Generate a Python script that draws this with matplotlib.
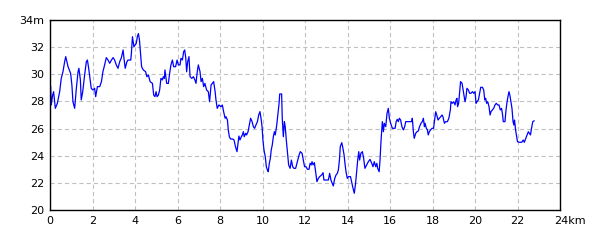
import matplotlib
matplotlib.use("Agg")
import matplotlib.pyplot as plt
import matplotlib.transforms as mtransforms

# Elevation profile (distance in km, elevation in m)
dist_km = [
    0.03, 0.06, 0.125, 0.17, 0.25, 0.345, 0.455, 0.53, 0.61, 0.69, 0.74, 0.85, 0.97,
    1.03, 1.08, 1.16, 1.24, 1.32, 1.36, 1.43, 1.47, 1.54, 1.63, 1.71, 1.76, 1.82, 1.88, 1.94,
    2.02, 2.10, 2.15, 2.23, 2.34, 2.42, 2.49, 2.57, 2.65, 2.73, 2.81, 2.89, 2.97,
    3.04, 3.12, 3.20, 3.28, 3.36, 3.44, 3.48, 3.54, 3.62, 3.67, 3.80, 3.83, 3.88, 3.95,
    4.06, 4.11, 4.16, 4.21, 4.27, 4.31, 4.39, 4.50, 4.56, 4.63, 4.71, 4.82, 4.88, 4.94, 4.99,
    5.04, 5.10, 5.16, 5.22, 5.29, 5.33, 5.38, 5.41, 5.49, 5.57, 5.63, 5.69, 5.76, 5.82, 5.91, 5.98,
    6.04, 6.12, 6.16, 6.23, 6.29, 6.34, 6.39, 6.43, 6.48, 6.54, 6.59, 6.67, 6.75, 6.82, 6.87, 6.93, 6.98,
    7.06, 7.11, 7.17, 7.23, 7.29, 7.37, 7.45, 7.51, 7.58, 7.64, 7.70, 7.77, 7.81, 7.87, 7.95,
    8.05, 8.11, 8.17, 8.24, 8.28, 8.35, 8.39, 8.44, 8.50, 8.60, 8.66, 8.71, 8.75, 8.80, 8.85, 8.89, 8.94, 8.99,
    9.05, 9.10, 9.14, 9.21, 9.25, 9.32, 9.38, 9.44, 9.51, 9.57, 9.63, 9.69, 9.76, 9.82, 9.88, 9.93, 9.98,
    10.02, 10.07, 10.13, 10.18, 10.23, 10.27, 10.32, 10.37, 10.41, 10.46, 10.51, 10.56, 10.60, 10.67,
    10.73, 10.78, 10.81, 10.90, 10.93, 10.98,
    11.03, 11.07, 11.12, 11.18, 11.23, 11.30, 11.36, 11.42, 11.48, 11.56, 11.64, 11.72, 11.78, 11.86,
    11.92, 11.98, 12.05, 12.11, 12.19, 12.24, 12.29, 12.33, 12.38, 12.44, 12.50, 12.56, 12.63, 12.69,
    12.78, 12.85, 12.89, 13.0, 13.10, 13.16, 13.22, 13.28, 13.33, 13.40, 13.46, 13.52, 13.57, 13.62,
    13.66, 13.73, 13.77, 13.84, 13.88, 13.93, 13.99, 14.05, 14.14, 14.21, 14.26, 14.32, 14.38, 14.43,
    14.48, 14.53, 14.57, 14.63, 14.70, 14.76, 14.82, 14.90, 14.98, 15.06, 15.14, 15.20, 15.26, 15.33,
    15.38, 15.42, 15.49, 15.53, 15.58, 15.64, 15.69, 15.73, 15.80, 15.86, 15.92, 15.97,
    16.03, 16.11, 16.24, 16.29, 16.34, 16.39, 16.44, 16.50, 16.56, 16.63, 16.69, 16.74, 16.81, 16.94,
    17.02, 17.05, 17.10, 17.14, 17.21, 17.27, 17.33, 17.39, 17.46, 17.52, 17.57, 17.62, 17.65, 17.71,
    17.76, 17.80, 17.85, 17.91, 17.98, 18.05, 18.10, 18.15, 18.20, 18.26, 18.32, 18.39, 18.45, 18.49,
    18.56, 18.62, 18.70, 18.77, 18.84, 18.87, 18.93, 19.0, 19.06, 19.11, 19.15, 19.18, 19.23, 19.27,
    19.32, 19.39, 19.44, 19.48, 19.53, 19.58, 19.62, 19.69, 19.75, 19.81, 19.88, 19.94, 20.0,
    20.05, 20.09, 20.16, 20.22, 20.27, 20.35, 20.41, 20.46, 20.50, 20.55, 20.60, 20.66, 20.71, 20.75,
    20.82, 20.88, 20.94, 21.0, 21.07, 21.13, 21.19, 21.25, 21.30, 21.33, 21.41, 21.46, 21.50, 21.55,
    21.60, 21.64, 21.69, 21.74, 21.79, 21.83, 21.86, 21.91, 21.96, 22.0, 22.09, 22.20, 22.27, 22.32,
    22.39, 22.45, 22.51, 22.56, 22.61, 22.66, 22.72, 22.78,
]
elev_m = [
    29.09, 27.74, 28.47, 28.72, 27.49, 27.86, 28.72, 29.70, 30.19, 30.93, 31.30, 30.56, 30.07,
    29.21, 27.98, 27.49, 28.97, 30.19, 30.44, 29.58, 28.11, 28.72, 29.95, 30.93, 31.05, 30.44, 29.70, 28.97,
    28.84, 28.97, 28.35, 29.09, 29.09, 29.46, 30.19, 30.69, 31.23, 31.05, 30.81, 31.05, 31.23,
    31.05, 30.69, 30.44, 30.93, 31.23, 31.79, 31.18, 30.44, 30.93, 31.05, 31.05, 31.55, 32.77, 32.03,
    32.28, 32.77, 33.0, 32.53, 31.30, 30.56, 30.32, 30.19, 29.82, 29.95, 29.46, 29.33, 28.47, 28.35, 28.72,
    28.35, 28.47, 28.84, 29.70, 29.58, 29.82, 29.70, 30.32, 29.33, 29.33, 30.07, 30.69, 31.05, 30.56, 30.56, 31.05,
    30.69, 30.69, 31.18, 31.05, 31.67, 31.79, 31.18, 30.19, 30.93, 31.30, 29.82, 29.70, 29.82, 29.58, 29.33, 30.19, 30.69,
    30.19, 29.46, 29.70, 29.09, 29.33, 28.84, 28.72, 27.98, 29.21, 29.33, 29.46, 28.72, 28.11, 27.49, 27.74,
    27.61, 27.74, 27.25, 26.76, 26.88, 26.63, 25.90, 25.40, 25.23, 25.23, 25.16, 24.79, 24.55, 24.30, 24.91, 25.45, 25.16, 25.35,
    25.53, 25.77, 25.40, 25.65, 25.53, 25.77, 26.26, 26.76, 26.51, 26.14, 26.02, 26.26, 26.51, 27.0, 27.25, 26.76, 26.14,
    25.16, 24.42, 23.93, 23.19, 22.95, 22.82, 23.44, 23.81, 24.42, 24.79, 25.40, 25.77, 25.53, 26.26,
    27.12, 27.86, 28.55, 28.55, 26.76, 25.40,
    26.51, 26.14, 25.16, 24.18, 23.32, 23.07, 23.68, 23.19, 23.07, 23.07, 23.56, 24.05, 24.30, 24.18,
    23.68, 23.19, 23.19, 23.0, 23.0, 23.44, 23.32, 23.56, 23.32, 23.49, 22.82, 22.09, 22.33, 22.46,
    22.58, 22.75, 22.21, 22.21, 22.21, 22.70, 22.21, 21.96, 21.77, 22.33, 22.58, 22.70, 22.95, 23.68,
    24.67, 24.96, 24.67, 24.05, 23.44, 22.82, 22.33, 22.46, 22.46, 21.96, 21.60, 21.23, 21.96, 22.82,
    23.68, 24.30, 23.68, 24.18, 24.30, 23.81, 23.07, 23.32, 23.56, 23.73, 23.44, 23.19, 23.56, 23.19,
    23.44, 23.07, 22.82, 23.68, 25.16, 26.51, 25.77, 26.39, 26.14, 27.12, 27.49, 26.76,
    26.39, 26.02, 26.02, 26.51, 26.68, 26.51, 26.76, 26.63, 26.14, 25.90, 26.14, 26.51, 26.51, 26.51,
    26.51, 26.76, 25.77, 25.28, 25.65, 25.77, 25.82, 26.14, 26.39, 26.51, 26.76, 26.14, 26.39, 26.02,
    25.90, 25.53, 25.77, 25.90, 26.02, 26.02, 26.63, 27.24, 27.0, 26.63, 26.76, 26.88, 27.0, 26.88,
    26.39, 26.51, 26.51, 26.76, 27.37, 27.98, 27.86, 27.98, 27.74, 28.11, 28.23, 27.61, 27.86, 28.60,
    29.46, 29.34, 28.84, 28.47, 27.98, 28.35, 28.97, 28.84, 28.60, 28.60, 28.72, 28.60, 28.72,
    27.86, 27.98, 28.11, 28.60, 29.04, 29.04, 28.84, 28.11, 28.23, 27.86, 27.98, 27.61, 27.0, 27.24,
    27.37, 27.49, 27.74, 27.86, 27.74, 27.74, 27.37, 27.49, 27.0, 26.51, 26.51, 27.37, 27.86, 28.35,
    28.72, 28.47, 27.98, 27.49, 26.51, 26.26, 26.63, 25.90, 25.40, 25.03, 24.99, 24.99, 25.16, 24.99,
    25.28, 25.53, 25.77, 25.65, 25.53, 26.02, 26.51, 26.57,
]

x_ticks = list(range(0, 25, 2))
y_ticks = list(range(20, 35, 2))
x_labels = [str(t) for t in x_ticks[:-1]] + ["24km"]
y_labels = [str(t) for t in y_ticks[:-1]] + ["34m"]

plt.rcParams['lines.scale_dashes'] = False

fig = plt.figure(figsize=(6, 2.4), dpi=100)
ax = fig.add_axes([50 / 600, 30 / 240, 510 / 600, 190 / 240])

ax.plot(dist_km, elev_m, color='#0000ff', linewidth=0.9)

ax.set_xlim(0, 24)
ax.set_ylim(20, 34)
ax.set_xticks(x_ticks)
ax.set_xticklabels(x_labels)
ax.set_yticks(y_ticks)
ax.set_yticklabels(y_labels)
ax.tick_params(length=0, labelsize=8, pad=4)

ax.grid(True, color='#c0c0c0', linestyle=(0, (3, 2.2)), linewidth=0.8)
ax.set_axisbelow(True)
for spine in ax.spines.values():
    spine.set_linewidth(1.0)
    spine.set_color('black')

# the "24km" label starts at its number, like the reference
last = ax.get_xticklabels()[-1]
last.set_horizontalalignment('left')
last.set_transform(last.get_transform() + mtransforms.ScaledTranslation(-6 / 100, 0, fig.dpi_scale_trans))

fig.savefig('out.png', dpi=100)
